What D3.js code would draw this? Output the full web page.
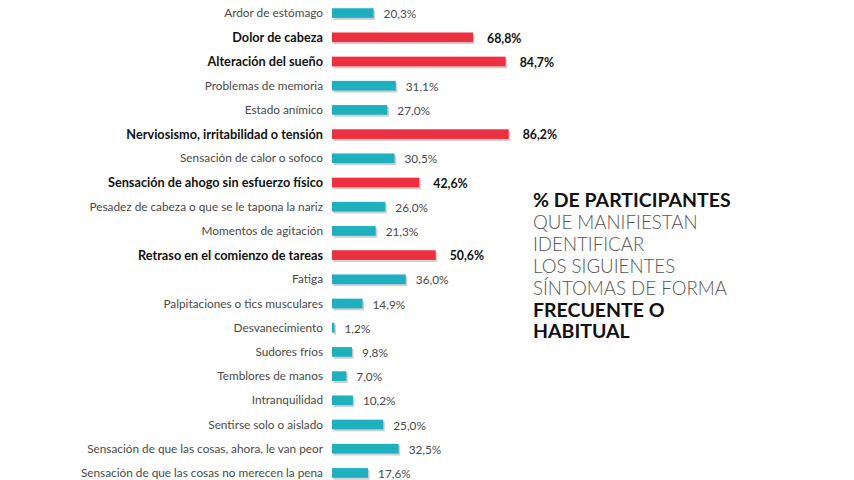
<!DOCTYPE html>
<html><head><meta charset="utf-8">
<script src="https://cdn.jsdelivr.net/npm/d3@7"></script>
<style>body{margin:0;background:#fff;}svg{display:block;}</style>
</head><body>
<script>
const categories = ["Ardor de estómago","Dolor de cabeza","Alteración del sueño","Problemas de memoria","Estado anímico","Nerviosismo, irritabilidad o tensión","Sensación de calor o sofoco","Sensación de ahogo sin esfuerzo físico","Pesadez de cabeza o que se le tapona la nariz","Momentos de agitación","Retraso en el comienzo de tareas","Fatiga","Palpitaciones o tics musculares","Desvanecimiento","Sudores fríos","Temblores de manos","Intranquilidad","Sentirse solo o aislado","Sensación de que las cosas, ahora, le van peor","Sensación de que las cosas no merecen la pena"];
const values = [20.3,68.8,84.7,31.1,27.0,86.2,30.5,42.6,26.0,21.3,50.6,36.0,14.9,1.2,9.8,7.0,10.2,25.0,32.5,17.6];
const highlighted = [false,true,true,false,false,true,false,true,false,false,true,false,false,false,false,false,false,false,false,false];
const titleLines = [["% DE PARTICIPANTES",true],["QUE MANIFIESTAN",false],["IDENTIFICAR",false],["LOS SIGUIENTES",false],["SÍNTOMAS DE FORMA",false],["FRECUENTE O",true],["HABITUAL",true]];

const W=854,H=480;
const svg=d3.select("body").append("svg").attr("width",W).attr("height",H);
const font="Lato, 'Source Sans Pro', sans-serif";
const x=d3.scaleLinear().domain([0,100]).range([332,332+205]);
const y=d3.scaleBand().domain(categories).range([1,485]).paddingInner(0.6).paddingOuter(0.3);
const fmt=v=>d3.format(".1f")(v).replace(".",",")+"%";
const teal="#1fb0c0", red="#ec3041";

const rows=svg.append("g").selectAll("g").data(categories).join("g");
rows.append("rect").attr("x",x(0)+1.5).attr("y",d=>y(d)+2).attr("height",y.bandwidth())
  .attr("width",(d,i)=>x(values[i])-x(0)).attr("fill","#cfcfcf");
rows.append("rect").attr("x",x(0)).attr("y",d=>y(d)).attr("height",y.bandwidth())
  .attr("width",(d,i)=>x(values[i])-x(0)).attr("fill",(d,i)=>highlighted[i]?red:teal);
rows.append("text").attr("x",323).attr("y",d=>y(d)+y.bandwidth()/2).attr("dy","0.35em")
  .attr("text-anchor","end").attr("font-family",font).attr("font-size",(d,i)=>highlighted[i]?12.7:11.8)
  .attr("font-weight",(d,i)=>highlighted[i]?700:400).attr("fill",(d,i)=>highlighted[i]?"#111":"#4a4a4a")
  .text(d=>d);
rows.append("text").attr("x",(d,i)=>x(values[i])+(highlighted[i]?14:10)).attr("y",d=>y(d)+y.bandwidth()/2+1).attr("dy","0.35em")
  .attr("font-family",font).attr("font-size",(d,i)=>highlighted[i]?12.3:11.8)
  .attr("font-weight",(d,i)=>highlighted[i]?700:400).attr("fill",(d,i)=>highlighted[i]?"#111":"#4a4a4a")
  .text((d,i)=>fmt(values[i]));

svg.append("g").selectAll("text").data(titleLines).join("text")
  .attr("x",533).attr("y",(d,i)=>207+i*21.9)
  .attr("font-family",font).attr("font-size",d=>d[1]?19.5:18.7)
  .attr("font-weight",d=>d[1]?700:300).attr("fill",d=>d[1]?"#111":"#555")
  .text(d=>d[0]);
</script>
</body></html>
